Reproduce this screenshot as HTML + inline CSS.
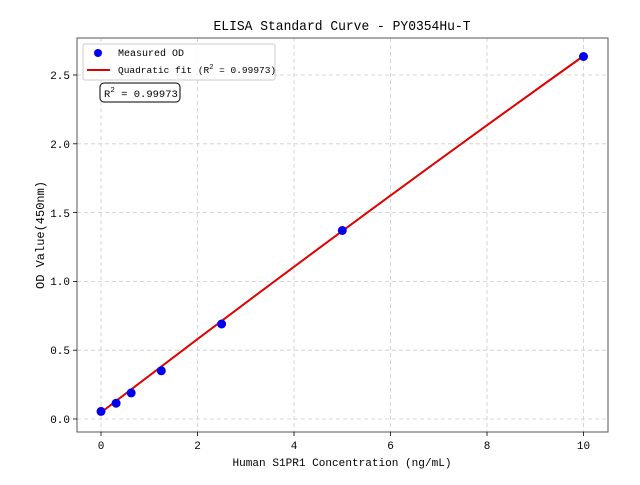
<!DOCTYPE html>
<html><head><meta charset="utf-8"><style>
html,body{margin:0;padding:0;background:#fff;}
svg text{font-family:"WenQuanYi Zen Hei","Liberation Mono",monospace;fill:#000;}
</style></head><body>
<svg width="640" height="480" xmlns="http://www.w3.org/2000/svg">
<rect width="640" height="480" fill="#fff"/>
<g stroke="#cccccc" stroke-dasharray="4,3" stroke-width="0.8">
<line x1="101" y1="38" x2="101" y2="432"/><line x1="197.5" y1="38" x2="197.5" y2="432"/><line x1="294" y1="38" x2="294" y2="432"/><line x1="390.5" y1="38" x2="390.5" y2="432"/><line x1="487" y1="38" x2="487" y2="432"/><line x1="583.5" y1="38" x2="583.5" y2="432"/>
<line x1="77" y1="419" x2="608" y2="419"/><line x1="77" y1="350.2" x2="608" y2="350.2"/><line x1="77" y1="281.4" x2="608" y2="281.4"/><line x1="77" y1="212.6" x2="608" y2="212.6"/><line x1="77" y1="143.8" x2="608" y2="143.8"/><line x1="77" y1="75" x2="608" y2="75"/>
</g>
<path d="M101,412.5 Q342,228 583.5,56" fill="none" stroke="#e00000" stroke-width="2"/>
<g fill="#0000ee">
<circle cx="101" cy="411.4" r="4.5"/><circle cx="116.1" cy="403.2" r="4.5"/><circle cx="131.2" cy="392.9" r="4.5"/><circle cx="161.3" cy="370.8" r="4.5"/><circle cx="221.6" cy="324" r="4.5"/><circle cx="342.3" cy="230.5" r="4.5"/><circle cx="583.5" cy="56.5" r="4.5"/>
</g>
<rect x="77" y="38" width="531" height="394" fill="none" stroke="#555" stroke-width="1"/>
<g stroke="#000" stroke-width="0.8">
<line x1="101" y1="432" x2="101" y2="436"/><line x1="197.5" y1="432" x2="197.5" y2="436"/><line x1="294" y1="432" x2="294" y2="436"/><line x1="390.5" y1="432" x2="390.5" y2="436"/><line x1="487" y1="432" x2="487" y2="436"/><line x1="583.5" y1="432" x2="583.5" y2="436"/>
<line x1="73" y1="419" x2="77" y2="419"/><line x1="73" y1="350.2" x2="77" y2="350.2"/><line x1="73" y1="281.4" x2="77" y2="281.4"/><line x1="73" y1="212.6" x2="77" y2="212.6"/><line x1="73" y1="143.8" x2="77" y2="143.8"/><line x1="73" y1="75" x2="77" y2="75"/>
</g>
<g font-size="11" text-anchor="middle">
<text x="101" y="449">0</text><text x="197.5" y="449">2</text><text x="294" y="449">4</text><text x="390.5" y="449">6</text><text x="487" y="449">8</text><text x="583.5" y="449">10</text>
</g>
<g font-size="11" text-anchor="end">
<text x="70" y="423">0.0</text><text x="70" y="354">0.5</text><text x="70" y="285">1.0</text><text x="70" y="217">1.5</text><text x="70" y="148">2.0</text><text x="70" y="79">2.5</text>
</g>
<text x="342" y="466" font-size="11" text-anchor="middle" textLength="219" lengthAdjust="spacingAndGlyphs">Human S1PR1 Concentration (ng/mL)</text>
<text transform="translate(44,235) rotate(-90)" font-size="12" text-anchor="middle" textLength="108" lengthAdjust="spacingAndGlyphs">OD Value(450nm)</text>
<text x="342" y="30" font-size="14" text-anchor="middle" textLength="257" lengthAdjust="spacingAndGlyphs">ELISA Standard Curve - PY0354Hu-T</text>
<rect x="83" y="44" width="192" height="36" rx="2" fill="#fff" fill-opacity="0.85" stroke="#ccc"/>
<circle cx="98" cy="53" r="4" fill="#0000ee"/>
<line x1="87" y1="70" x2="110" y2="70" stroke="#e00000" stroke-width="2"/>
<text x="118" y="56" font-size="10">Measured OD</text>
<text x="118" y="73" font-size="9.5">Quadratic fit (R<tspan dy="-4" font-size="7">2</tspan><tspan dy="4"> = 0.99973)</tspan></text>
<rect x="100" y="83" width="80" height="19" rx="4" fill="#fff" stroke="#000"/>
<text x="104" y="97" font-size="10.5">R<tspan dy="-5" font-size="7.5">2</tspan><tspan dy="5"> = 0.99973</tspan></text>
</svg>
</body></html>
